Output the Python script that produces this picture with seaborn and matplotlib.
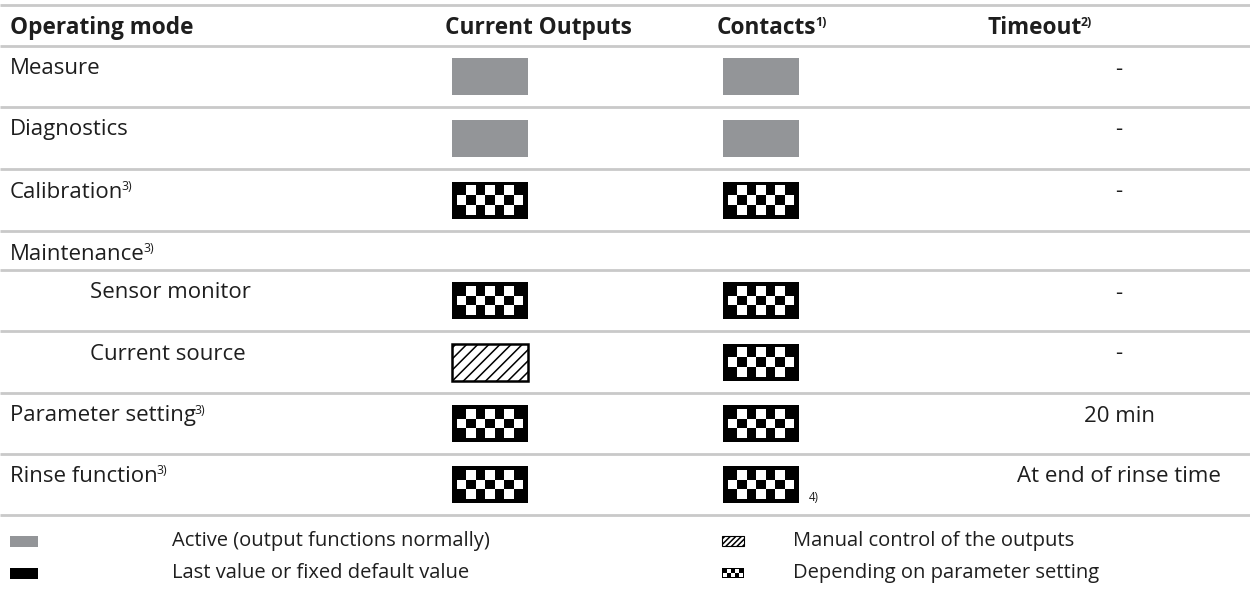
import numpy as np
import matplotlib
matplotlib.use("Agg")
import matplotlib.pyplot as plt
from matplotlib.patches import Rectangle
import seaborn as sns

# ── Дані таблиці ──────────────────────────────────────────────────
headers      = ["Operating mode", "Current Outputs", "Contacts", "Timeout"]
header_notes = ["", "", "1)", "2)"]

modes       = ["Measure", "Diagnostics", "Calibration", "Maintenance",
               "Sensor monitor", "Current source", "Parameter setting", "Rinse function"]
mode_notes  = ["", "", "3)", "3)", "", "", "3)", "3)"]
indented    = [False, False, False, False, True, True, False, False]
current_out = ["active", "active", "param", None, "param", "manual", "param", "param"]
contacts    = ["active", "active", "param", None, "param", "param", "param", "param"]
contact_notes = ["", "", "", "", "", "", "", "4)"]
timeout     = ["-", "-", "-", "", "-", "-", "20 min", "At end of rinse time"]

legend_keys  = ["active", "last", "manual", "param"]
legend_texts = ["Active (output functions normally)", "Last value or fixed default value",
                "Manual control of the outputs", "Depending on parameter setting"]

# ── Розкладка ─────────────────────────────────────────────────────
W, H     = 1250, 590
LINES_Y  = [5, 46, 107, 169, 231, 270, 331, 393, 454, 515]
LINE_C   = "#c9c9c9"
TEXT_C   = "#1e1e1e"
GRAY     = "#939598"
FONT     = "Open Sans"
FS       = 16
FS_HEAD  = 16.3
FS_LEG   = 14.5
COL_ICON = [452, 723]          # ліві краї іконок
ICON_W, ICON_H = 76, 37
TIMEOUT_X = 1119

sns.set_theme(style="white")
plt.rcParams["font.family"] = [FONT, "DejaVu Sans"]
plt.rcParams["hatch.linewidth"] = 1.1

fig = plt.figure(figsize=(W / 100, H / 100), dpi=100)
ax = fig.add_axes([0, 0, 1, 1])
ax.set_xlim(0, W); ax.set_ylim(H, 0); ax.axis("off")
renderer = fig.canvas.get_renderer()


def text_sup(x, y, s, note, bold=False, ha="left", fs=FS):
    wt = "bold" if bold else "normal"
    t = ax.text(x, y, s, ha=ha, va="center", fontsize=fs, color=TEXT_C, fontweight=wt)
    if note:
        bb = t.get_window_extent(renderer)
        x1 = ax.transData.inverted().transform((bb.x1, bb.y0))[0]
        ax.text(x1 - 1.5, y - 6, note, ha="left", va="center", fontsize=fs * 0.55,
                color=TEXT_C, fontweight=wt)
    return t


def icon(x, y, w, h, kind, ncol=7, nrow=3, lw=1.8, hatch="///"):
    if kind == "active":
        ax.add_patch(Rectangle((x, y), w, h, facecolor=GRAY, edgecolor="none"))
    elif kind == "last":
        ax.add_patch(Rectangle((x, y), w, h, facecolor="black", edgecolor="none"))
    elif kind == "manual":
        ax.add_patch(Rectangle((x, y), w, h, facecolor="white", edgecolor="black",
                               hatch=hatch, lw=lw))
    elif kind == "param":
        ax.add_patch(Rectangle((x, y), w, h, facecolor="black", edgecolor="none"))
        pad_x, pad_y = w * 0.06, h * 0.1
        cw = (w - 2 * pad_x) / ncol
        ch = (h - 2 * pad_y) / nrow
        for r in range(nrow):
            for c in range(ncol):
                if (r + c) % 2 == 1:
                    ax.add_patch(Rectangle((x + pad_x + c * cw, y + pad_y + r * ch),
                                           cw, ch, facecolor="white", edgecolor="none"))
        if nrow == 3:
            # тонка біла риска зліва, як у оригінальній піктограмі
            ax.add_patch(Rectangle((x + pad_x, y + pad_y), w * 0.012, h - 2 * pad_y,
                                   facecolor="white", edgecolor="none"))


# горизонтальні лінії
for yl in LINES_Y:
    ax.plot([0, W], [yl, yl], color=LINE_C, lw=2.0, solid_capstyle="butt")

# заголовок
hy = (LINES_Y[0] + LINES_Y[1]) / 2 + 3
for hx, h, n in zip([10, 445, 717, 988], headers, header_notes):
    text_sup(hx, hy, h, n, bold=True, fs=FS_HEAD)

# рядки
for i, m in enumerate(modes):
    top, bot = LINES_Y[i + 1], LINES_Y[i + 2]
    ty = top + 23
    text_sup(90 if indented[i] else 10, ty, m, mode_notes[i])
    cy = (top + bot) / 2
    for cx, kind in zip(COL_ICON, [current_out[i], contacts[i]]):
        if kind:
            icon(cx, cy - ICON_H / 2, ICON_W, ICON_H, kind)
    if contact_notes[i]:
        ax.text(COL_ICON[1] + ICON_W + 10, cy + 13, contact_notes[i], fontsize=FS * 0.52,
                color=TEXT_C, va="center")
    if timeout[i]:
        ax.text(TIMEOUT_X, ty, timeout[i], ha="center", va="center", fontsize=FS, color=TEXT_C)

# легенда
leg_y = [541, 573]
for j, (k, s) in enumerate(zip(legend_keys, legend_texts)):
    col, row = j // 2, j % 2
    ly = leg_y[row]
    if col == 0:
        icon(10, ly - 5.5, 28, 11, k)
        ax.text(172, ly, s, va="center", fontsize=FS_LEG, color=TEXT_C)
    else:
        icon(722, ly - 5, 22, 10, k, ncol=5, nrow=2, lw=0.8, hatch="//////")
        ax.text(793, ly, s, va="center", fontsize=FS_LEG, color=TEXT_C)

fig.savefig("out.png", dpi=100)
